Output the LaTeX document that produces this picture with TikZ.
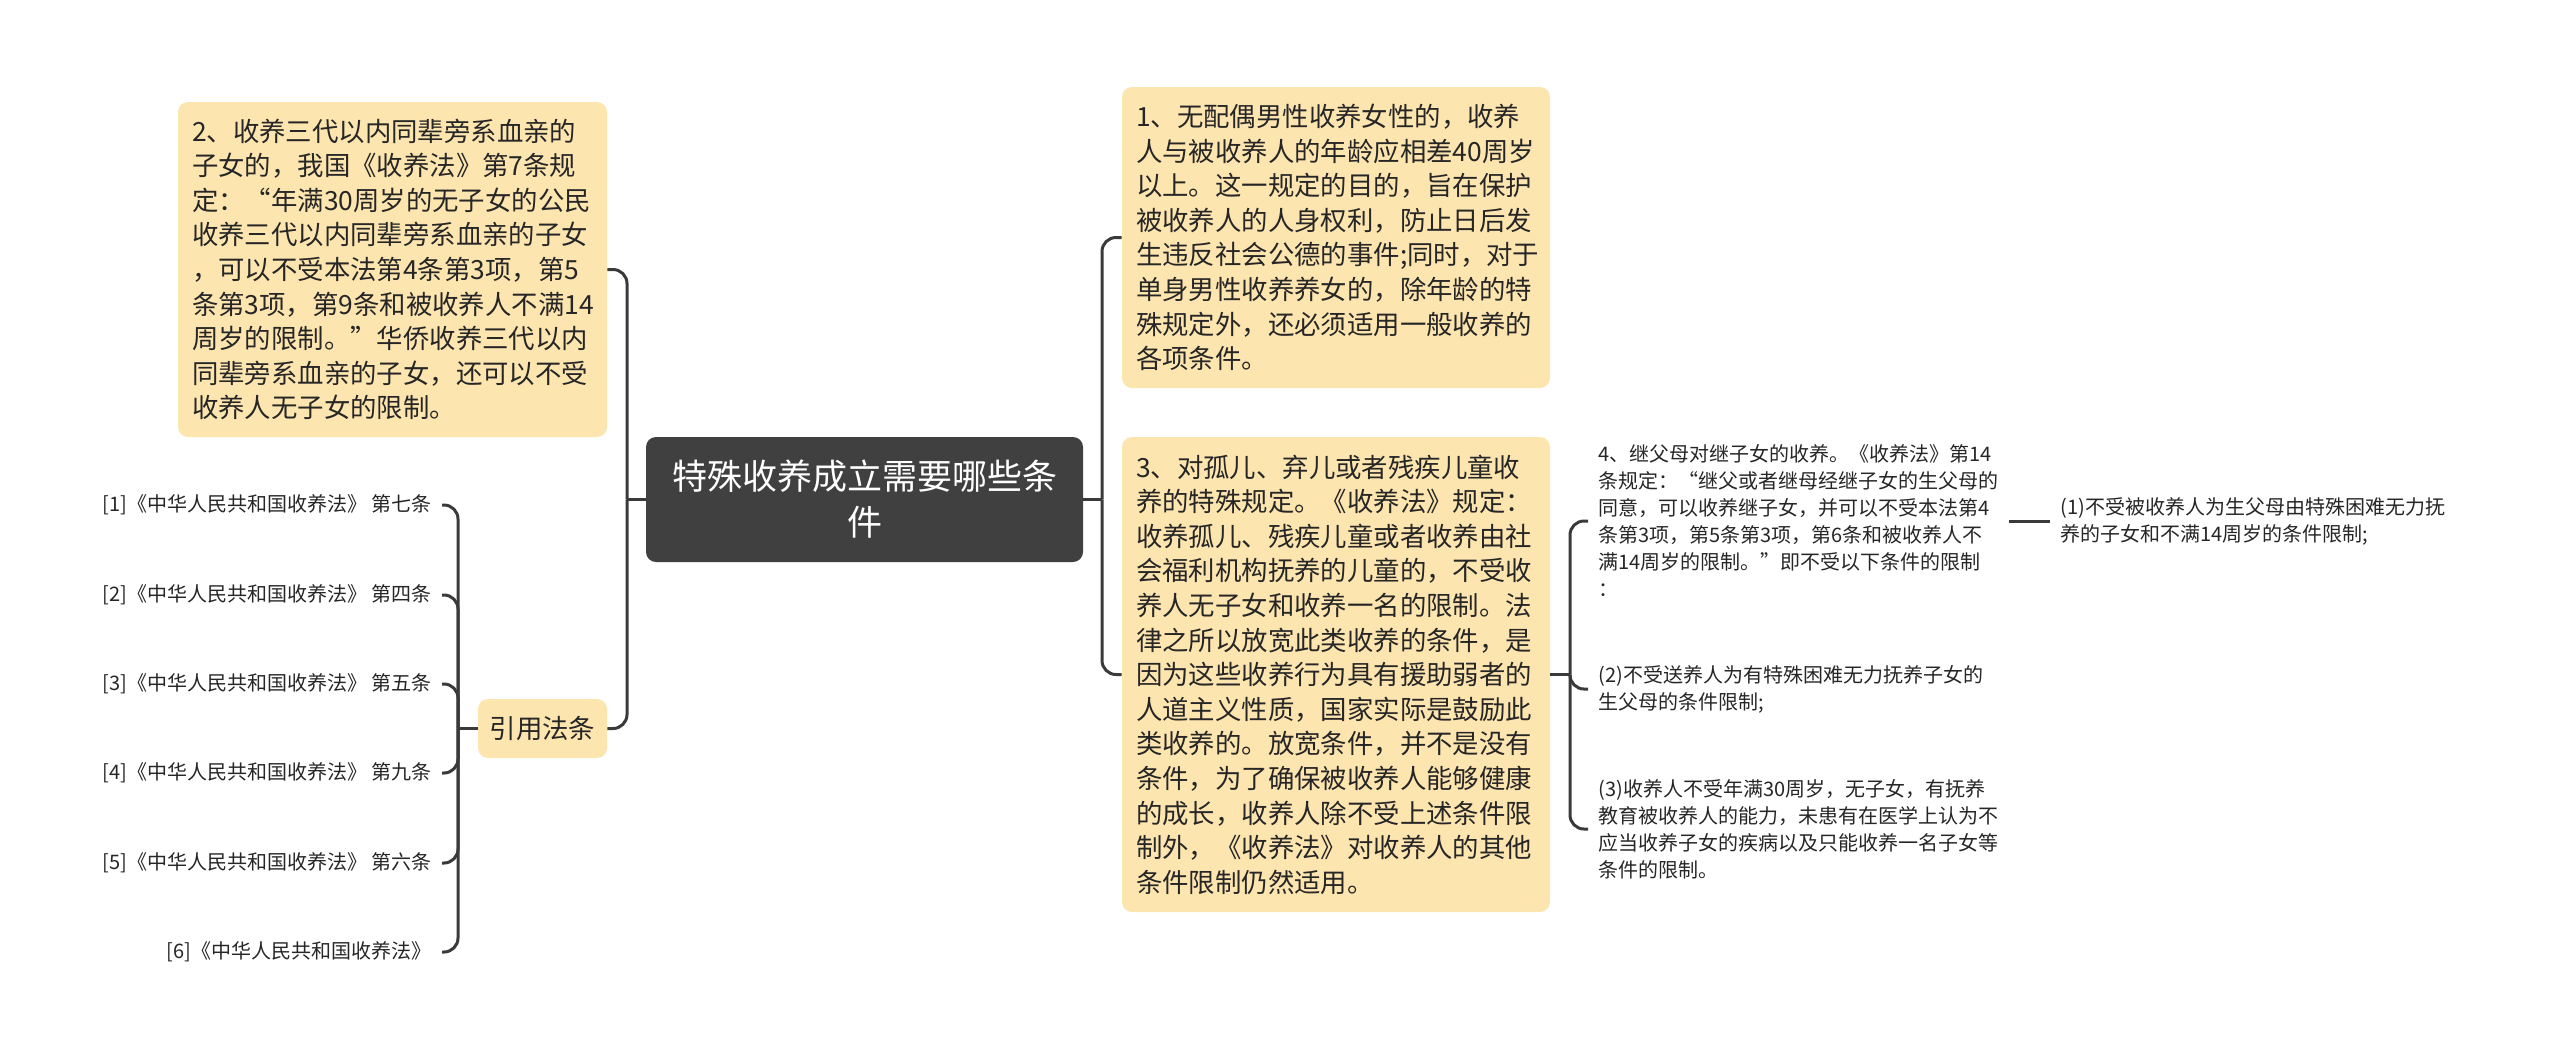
\documentclass[tikz,border=0pt]{standalone}
\usepackage{fontspec}
\setmainfont{Noto Sans CJK SC}
\usetikzlibrary{positioning}

\definecolor{boxfill}{HTML}{FDE5B0}
\definecolor{rootfill}{HTML}{404040}
\definecolor{linkcol}{HTML}{3A3A3A}
\definecolor{inkcol}{HTML}{262626}

\begin{document}
\begin{tikzpicture}[x=0.5pt,y=-0.5pt,
	topic/.style={fill=boxfill,text=inkcol,rounded corners=5pt,inner xsep=7pt,inner ysep=0pt,align=left,font=\fontsize{13.2pt}{17.3pt}\selectfont},
	rootbox/.style={fill=rootfill,text=white,rounded corners=5pt,inner sep=0pt,align=center,font=\fontsize{17.5pt}{23pt}\selectfont},
	leaf/.style={text=inkcol,inner xsep=5pt,inner ysep=1pt,align=left,font=\fontsize{10pt}{13.5pt}\selectfont},
	link/.style={draw=linkcol,line width=1.5pt,rounded corners=7pt}
	]

	\useasboundingbox (0,0) rectangle (2560,1062);

	\node[rootbox,minimum width=218.5pt,minimum height=62.5pt] (root) at (864.5,499.5) {特殊收养成立需要哪些条\\件};

	\node[topic,text width=200.5pt,minimum height=167.5pt] (t2) at (392.5,269.5) {2、收养三代以内同辈旁系血亲的\\子女的，我国《收养法》第7条规\\定：“年满30周岁的无子女的公民\\收养三代以内同辈旁系血亲的子女\\，可以不受本法第4条第3项，第5\\条第3项，第9条和被收养人不满14\\周岁的限制。”华侨收养三代以内\\同辈旁系血亲的子女，还可以不受\\收养人无子女的限制。};
	\node[topic,align=center,inner xsep=0pt,minimum width=64.5pt,minimum height=29.5pt] (cite) at (542.5,728.5) {引用法条};

	\node[topic,text width=200pt,minimum height=150.5pt] (t1) at (1336,237.5) {1、无配偶男性收养女性的，收养\\人与被收养人的年龄应相差40周岁\\以上。这一规定的目的，旨在保护\\被收养人的人身权利，防止日后发\\生违反社会公德的事件;同时，对于\\单身男性收养养女的，除年龄的特\\殊规定外，还必须适用一般收养的\\各项条件。};
	\node[topic,text width=200pt,minimum height=237.5pt] (t3) at (1336,674.5) {3、对孤儿、弃儿或者残疾儿童收\\养的特殊规定。《收养法》规定：\\收养孤儿、残疾儿童或者收养由社\\会福利机构抚养的儿童的，不受收\\养人无子女和收养一名的限制。法\\律之所以放宽此类收养的条件，是\\因为这些收养行为具有援助弱者的\\人道主义性质，国家实际是鼓励此\\类收养的。放宽条件，并不是没有\\条件，为了确保被收养人能够健康\\的成长，收养人除不受上述条件限\\制外，《收养法》对收养人的其他\\条件限制仍然适用。};

	\node[leaf,anchor=west] (n4) at (1588,521) {4、继父母对继子女的收养。《收养法》第14\\条规定：“继父或者继母经继子女的生父母的\\同意，可以收养继子女，并可以不受本法第4\\条第3项，第5条第3项，第6条和被收养人不\\满14周岁的限制。”即不受以下条件的限制\\：};
	\node[leaf,anchor=west] (n1) at (2050,521) {(1)不受被收养人为生父母由特殊困难无力抚\\养的子女和不满14周岁的条件限制;};
	\node[leaf,anchor=west] (n2) at (1588,689) {(2)不受送养人为有特殊困难无力抚养子女的\\生父母的条件限制;};
	\node[leaf,anchor=west] (n3) at (1588,829) {(3)收养人不受年满30周岁，无子女，有抚养\\教育被收养人的能力，未患有在医学上认为不\\应当收养子女的疾病以及只能收养一名子女等\\条件的限制。};

	\node[leaf,anchor=east] (c1) at (442,505) {[1]《中华人民共和国收养法》 第七条};
	\node[leaf,anchor=east] (c2) at (442,595) {[2]《中华人民共和国收养法》 第四条};
	\node[leaf,anchor=east] (c3) at (442,684) {[3]《中华人民共和国收养法》 第五条};
	\node[leaf,anchor=east] (c4) at (442,773) {[4]《中华人民共和国收养法》 第九条};
	\node[leaf,anchor=east] (c5) at (442,863) {[5]《中华人民共和国收养法》 第六条};
	\node[leaf,anchor=east] (c6) at (442,952) {[6]《中华人民共和国收养法》};

	% junctions of the branches
	\coordinate (lj) at (627,499.5);
	\coordinate (rj) at (1102,499.5);
	\coordinate (bj) at (1570,674.5);
	\coordinate (cj) at (458,728.5);

	\draw[link] (root.west) -- (lj);
	\draw[link] (lj) |- (t2.east);
	\draw[link] (lj) |- (cite.east);

	\draw[link] (root.east) -- (rj);
	\draw[link] (rj) |- (t1.west);
	\draw[link] (rj) |- (t3.west);

	\draw[link] (t3.east) -- (bj);
	\draw[link] (bj) |- (n4.west);
	\draw[link] (bj) |- (n2.west);
	\draw[link] (bj) |- (n3.west);
	\draw[link] (n4.east) -- (n1.west);

	\draw[link] (cite.west) -- (cj);
	\draw[link] (cj) |- (c1.east);
	\draw[link] (cj) |- (c2.east);
	\draw[link] (cj) |- (c3.east);
	\draw[link] (cj) |- (c4.east);
	\draw[link] (cj) |- (c5.east);
	\draw[link] (cj) |- (c6.east);

\end{tikzpicture}
\end{document}
